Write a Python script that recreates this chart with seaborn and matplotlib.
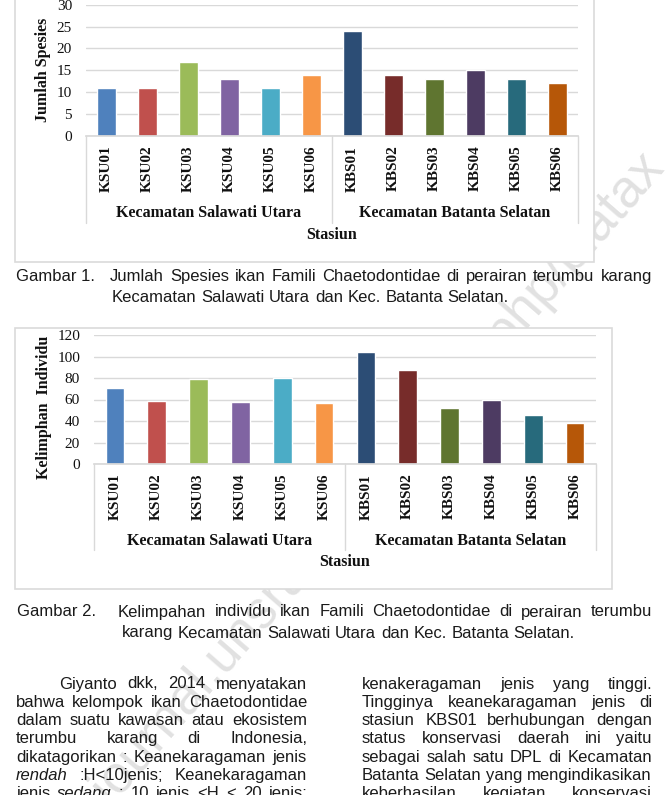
import matplotlib
matplotlib.use("Agg")
import pandas as pd
import matplotlib.pyplot as plt
import seaborn as sns
from matplotlib.patches import Rectangle
from matplotlib.lines import Line2D

# data
stations = ["KSU01", "KSU02", "KSU03", "KSU04", "KSU05", "KSU06",
            "KBS01", "KBS02", "KBS03", "KBS04", "KBS05", "KBS06"]
jumlah_spesies = [11, 11, 17, 13, 11, 14, 24, 14, 13, 15, 13, 12]
kelimpahan = [71, 59, 79, 58, 80, 57, 104, 87, 52, 60, 46, 38]
groups = ["Kecamatan Salawati Utara", "Kecamatan Batanta Selatan"]
spesies_ticks = [0, 5, 10, 15, 20, 25, 30]
kelimpahan_ticks = [0, 20, 40, 60, 80, 100, 120]
bar_colors = ["#4F81BD", "#C0504D", "#9BBB59", "#8064A2", "#4BACC6", "#F79646",
              "#2C4D75", "#772C2A", "#5F7530", "#4D3B62", "#276A7C", "#B65708"]

caption1 = ["Gambar 1.", "Jumlah Spesies ikan Famili Chaetodontidae di perairan terumbu karang",
            "Kecamatan Salawati Utara dan Kec. Batanta Selatan."]
caption2 = ["Gambar 2.", "Kelimpahan individu ikan Famili Chaetodontidae di perairan terumbu",
            "karang Kecamatan Salawati Utara dan Kec. Batanta Selatan."]
left_col = ["Giyanto dkk, 2014 menyatakan",
            "bahwa kelompok ikan Chaetodontidae",
            "dalam suatu kawasan atau ekosistem",
            "terumbu karang di Indonesia,",
            "dikatagorikan : Keanekaragaman jenis",
            "rendah :H<10jenis; Keanekaragaman",
            "jenis sedang : 10 jenis <H < 20 jenis;"]
right_col = ["kenakeragaman jenis yang tinggi.",
             "Tingginya keanekaragaman jenis di",
             "stasiun KBS01 berhubungan dengan",
             "status konservasi daerah ini yaitu",
             "sebagai salah satu DPL di Kecamatan",
             "Batanta Selatan yang mengindikasikan",
             "keberhasilan kegiatan konservasi"]
italic_words = {"rendah", "sedang"}

W, H = 672, 795
sns.set_theme(style="white")
plt.rcParams["font.family"] = ["Liberation Serif", "DejaVu Serif"]
sans, body_size = "Liberation Sans", 12

fig = plt.figure(figsize=(W / 100, H / 100), dpi=100)
fig.patch.set_facecolor("white")


def fx(x):
    return x / W


def fy(y):
    return 1 - y / H


def draw_chart(values, ticks, ylabel, box, plot, sep_bottom, group_y, stasiun_y, ylabel_pos):
    bx0, by0, bx1, by1 = box
    fig.patches.append(Rectangle((fx(bx0), fy(by1)), (bx1 - bx0) / W, (by1 - by0) / H,
                                 transform=fig.transFigure, fc="white", ec="#dadada",
                                 lw=1.2, zorder=2))
    px0, py0, px1, py1 = plot
    ax = fig.add_axes([fx(px0), fy(py1), (px1 - px0) / W, (py1 - py0) / H])
    ax.set_zorder(5)
    ax.patch.set_alpha(0)
    df = pd.DataFrame({"Stasiun": stations, "Nilai": values})
    sns.barplot(data=df, x="Stasiun", y="Nilai", hue="Stasiun", palette=bar_colors,
                legend=False, width=0.45, saturation=1, ax=ax)
    ax.set_ylim(0, ticks[-1])
    ax.set_yticks(ticks)
    ax.yaxis.grid(True, color="#d9d9d9", lw=1)
    ax.set_axisbelow(True)
    for s in ["top", "right", "left"]:
        ax.spines[s].set_visible(False)
    ax.spines["bottom"].set_color("#d9d9d9")
    ax.set_xlabel("")
    ax.set_ylabel("")
    ax.tick_params(axis="y", length=0, pad=10, labelsize=11, labelcolor="#111111")
    ax.tick_params(axis="x", length=0, pad=7, labelsize=11, labelrotation=90,
                   labelcolor="#111111")
    for lab in ax.get_xticklabels():
        lab.set_fontweight("bold")

    mid = px0 + (px1 - px0) / 2
    for x in [px0, mid, px1]:
        fig.lines.append(Line2D([fx(x), fx(x)], [fy(py1), fy(sep_bottom)],
                                transform=fig.transFigure, color="#d9d9d9", lw=1, zorder=6))
    for g, cx in zip(groups, [(px0 + mid) / 2, (mid + px1) / 2]):
        fig.text(fx(cx), fy(group_y), g, ha="center", va="center", fontsize=11.5,
                 fontweight="bold", color="#111111", zorder=6)
    fig.text(fx((px0 + px1) / 2), fy(stasiun_y), "Stasiun", ha="center", va="center",
             fontsize=11.5, fontweight="bold", color="#111111", zorder=6)
    fig.text(fx(ylabel_pos[0]), fy(ylabel_pos[1]), ylabel, rotation=90, ha="center",
             va="center", fontsize=11.5, fontweight="bold", color="#111111", zorder=6)
    return ax


draw_chart(jumlah_spesies, spesies_ticks, "Jumlah Spesies",
           (15, -20, 594, 262), (86, 4.7, 578, 136), 223, 213, 235, (43, 70))
draw_chart(kelimpahan, kelimpahan_ticks, "Kelimphan  Individu",
           (15, 328, 612, 589), (94, 335, 596, 464), 550, 541, 562, (44, 407))

renderer = fig.canvas.get_renderer()


def put_line(text, x0, x1, y, justify=True):
    objs = []
    for w in text.split():
        style = "italic" if w in italic_words else "normal"
        objs.append(fig.text(fx(x0), fy(y), w, ha="left", va="center", family=sans,
                             fontsize=body_size, style=style, color="#1a1a1a", zorder=4))
    widths = [t.get_window_extent(renderer).width for t in objs]
    space = body_size * 1.389 * 0.278
    if justify and len(objs) > 1:
        gap = max(((x1 - x0) - sum(widths)) / (len(objs) - 1), space * 0.6)
    else:
        gap = space
    x = x0
    for t, w in zip(objs, widths):
        t.set_x(fx(x))
        x += w + gap


def put_caption(cap, y1, y2, label_x, text_x, line2_x):
    fig.text(fx(label_x), fy(y1), cap[0], ha="left", va="center", family=sans,
             fontsize=body_size, color="#1a1a1a", zorder=4)
    put_line(cap[1], text_x, 652, y1)
    put_line(cap[2], line2_x, 652, y2, justify=False)


put_caption(caption1, 277, 298, 16, 110, 112)
put_caption(caption2, 612, 633, 17, 118, 122)

for i, line in enumerate(left_col):
    y = 684 + 18.3 * i
    put_line(line, 59 if i == 0 else 16, 307, y)
for i, line in enumerate(right_col):
    y = 684 + 18.3 * i
    put_line(line, 362, 652, y)

# faint diagonal watermark of the source page
fig.text(fx(368), fy(488), "ejournal.unsrat.ac.id/index.php/platax", rotation=49,
         rotation_mode="anchor", ha="center", va="center", fontsize=38, family=sans,
         color="#bdbdbd", alpha=0.45, zorder=1)

fig.savefig("out.png", dpi=100)
